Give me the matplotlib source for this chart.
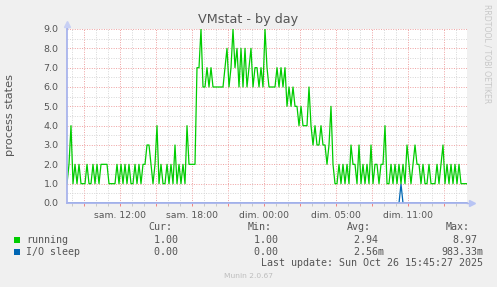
import numpy as np
import matplotlib
matplotlib.use("Agg")
import matplotlib.pyplot as plt
from matplotlib.ticker import MultipleLocator, FuncFormatter
from matplotlib.patches import Rectangle

# ---------------- data ----------------
title = "VMstat - by day"
y_label = "process states"
start_hour = 7.56          # hours since Saturday 00:00 (left edge of graph)
step_hour = 1.0 / 6.0      # 10-minute samples

running = [
    1, 2, 4, 1, 2, 1, 2, 1, 1, 1, 2, 1, 1, 2, 1, 2, 1, 2, 2, 2,
    2, 1, 1, 1, 1, 2, 1, 2, 1, 2, 1, 2, 1, 1, 2, 1, 2, 1, 2, 2,
    3, 3, 2, 1, 2, 4, 1, 2, 1, 1, 2, 1, 2, 1, 3, 1, 2, 1, 2, 1,
    4, 2, 2, 2, 2, 7, 7, 9, 6, 6, 7, 6, 7, 6, 6, 6, 6, 6, 6, 7,
    8, 6, 7, 9, 7, 8, 6, 8, 6, 8, 6, 7, 8, 6, 7, 7, 6, 7, 6, 9,
    7, 6, 6, 6, 6, 7, 6, 7, 6, 7, 5, 6, 5, 6, 5, 5, 4, 5, 4, 4,
    4, 6, 4, 3, 4, 3, 3, 4, 3, 3, 2, 3, 5, 2, 1, 1, 2, 1, 2, 1,
    2, 1, 3, 2, 2, 1, 3, 1, 2, 1, 2, 1, 3, 1, 2, 2, 1, 2, 2, 4,
    1, 1, 2, 1, 2, 1, 2, 1, 2, 1, 3, 2, 1, 2, 3, 2, 2, 1, 2, 1,
    1, 2, 1, 1, 1, 2, 1, 2, 3, 1, 2, 1, 2, 1, 2, 1, 2, 1, 1, 1,
    1,
]
io_sleep = [0.0] * len(running)
io_sleep[167] = 0.98

x_tick_hours = [12, 18, 24, 30, 36]
x_tick_labels = ["sam. 12:00", "sam. 18:00", "dim. 00:00", "dim. 05:00", "dim. 11:00"]

series_names = ["running", "I/O sleep"]
series_colors = ["#00CC00", "#0066B3"]
cur_vals = ["  1.00 ", "  0.00 "]
min_vals = ["  1.00 ", "  0.00 "]
avg_vals = ["  2.94 ", "  2.56m"]
max_vals = ["  8.97 ", "983.33m"]
last_update = "Last update: Sun Oct 26 15:45:27 2025"
footer = "Munin 2.0.67"
watermark = "RRDTOOL / TOBI OETIKER"

# ---------------- figure ----------------
W, H = 497, 287
fig = plt.figure(figsize=(W / 100, H / 100), dpi=100, facecolor="#F0F0F0")

def fx(px):
    return px / W

def fy(py):
    return 1 - py / H

ax_l, ax_r, ax_t, ax_b = 67, 467, 29, 203
ax = fig.add_axes([fx(ax_l), fy(ax_b), (ax_r - ax_l) / W, (ax_b - ax_t) / H])
ax.set_facecolor("white")

hours = start_hour + step_hour * np.arange(len(running))
ax.plot(hours, io_sleep, color=series_colors[1], lw=0.9, zorder=2)
ax.plot(hours, running, color=series_colors[0], lw=0.9, zorder=3)

ax.set_xlim(start_hour, start_hour + 400 / 12)
ax.set_ylim(0, 9.0)

# grid
ax.yaxis.set_major_locator(MultipleLocator(1.0))
ax.yaxis.set_minor_locator(MultipleLocator(0.5))
ax.xaxis.set_major_locator(MultipleLocator(3))
ax.xaxis.set_minor_locator(MultipleLocator(1))
red = "#EEA0A0"
gray = "#D6D6D6"
ax.grid(which="major", color=red, linestyle=(0, (1, 1.5)), linewidth=0.7, zorder=1)
ax.grid(which="minor", color=gray, linestyle=(0, (1, 1.5)), linewidth=0.7, zorder=0)
ax.set_axisbelow(True)

lab = dict(zip(x_tick_hours, x_tick_labels))
ax.xaxis.set_major_formatter(FuncFormatter(lambda v, p: lab.get(int(round(v)), "")))
ax.yaxis.set_major_formatter(FuncFormatter(lambda v, p: f"{v:.1f}"))

txt = "#555555"
ax.tick_params(axis="x", which="major", length=2.5, width=0.7, color="#F08080",
               labelsize=6.7, labelcolor=txt, pad=3.5, direction="out")
ax.tick_params(axis="x", which="minor", length=2.0, width=0.7, color="#C8C8C8", direction="out")
ax.tick_params(axis="y", which="both", length=0, labelsize=6.8, labelcolor=txt, pad=6)

for s in ["top", "right"]:
    ax.spines[s].set_visible(False)
axis_col = "#A8B4EC"
for s in ["left", "bottom"]:
    ax.spines[s].set_color(axis_col)
    ax.spines[s].set_linewidth(1.3)
    ax.spines[s].set_zorder(5)

# arrows on axes
ax.plot([1.0, 1.0 + 4 / 400], [0, 0], transform=ax.transAxes, color=axis_col, lw=1.0, clip_on=False)
ax.plot(1.0 + 5 / 400, 0, marker=">", ms=4, color="#B8C4F4", transform=ax.transAxes, clip_on=False)
ax.plot([0, 0], [1.0, 1.0 + 3 / 174], transform=ax.transAxes, color=axis_col, lw=1.0, clip_on=False)
ax.plot(0, 1.0 + 5 / 174, marker="^", ms=4, color="#C8D0F4", transform=ax.transAxes, clip_on=False)

# texts
fig.text(fx(248), fy(20), title, ha="center", va="center", fontsize=9.2, color=txt)
fig.text(fx(10), fy(115), y_label, ha="center", va="center", rotation=90, fontsize=8.2, color=txt)
fig.text(fx(487), fy(54), watermark, ha="center", va="center", rotation=270, fontsize=5.6, color="#C8C8C8")

mono = "DejaVu Sans Mono"
fs = 7.2
cw = 6.0
# headers
for hdr, end_px in zip(["Cur:", "Min:", "Avg:", "Max:"], [172, 272, 371, 470]):
    fig.text(fx(end_px), fy(226.5), hdr, ha="right", va="center", family=mono, fontsize=fs, color=txt)

rows_y = [240, 252]
col_start = [178 - 6 * cw, 278 - 6 * cw, 378 - 6 * cw, 477 - 6 * cw]
for i, name in enumerate(series_names):
    yy = rows_y[i]
    fig.patches.append(Rectangle((fx(14), fy(yy + 3)), 6 / W, 6 / H, transform=fig.transFigure,
                                 facecolor=series_colors[i], edgecolor="none"))
    fig.text(fx(26.5), fy(yy), name, ha="left", va="center", family=mono, fontsize=fs, color=txt)
    for cx, vals in zip(col_start, [cur_vals, min_vals, avg_vals, max_vals]):
        fig.text(fx(cx), fy(yy), vals[i], ha="left", va="center", family=mono, fontsize=fs, color=txt)

fig.text(fx(483), fy(263.5), last_update, ha="right", va="center", family=mono, fontsize=fs, color=txt)
fig.text(fx(248), fy(276), footer, ha="center", va="center", fontsize=5.4, color="#BDBDBD")

fig.savefig("out.png", dpi=100, facecolor=fig.get_facecolor())
